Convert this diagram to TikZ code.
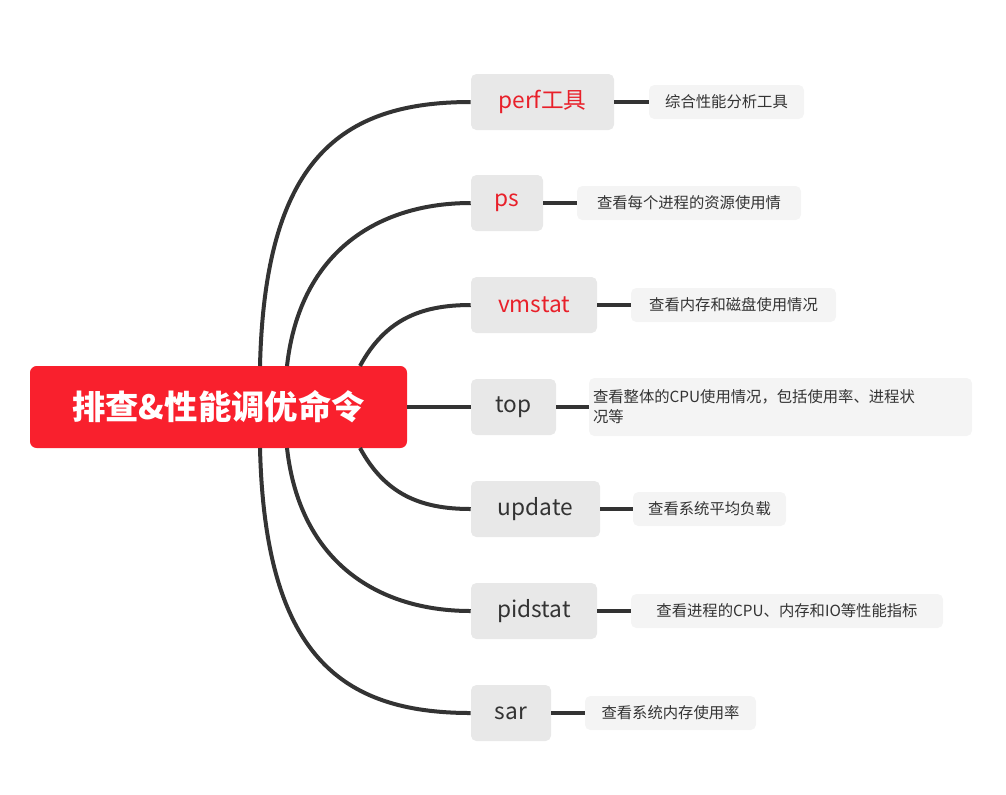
\documentclass[tikz,border=0pt]{standalone}
\usepackage{fontspec}
\setmainfont{Noto Sans CJK SC}
\definecolor{rootred}{HTML}{F9202D}
\definecolor{kidgray}{HTML}{E8E8E8}
\definecolor{leafgray}{HTML}{F4F4F4}
\definecolor{linec}{HTML}{333333}
\definecolor{redtxt}{HTML}{E8202A}
\begin{document}
\begin{tikzpicture}[x=0.75pt,y=-0.75pt,
  link/.style={draw=linec,line width=3pt},
  kid/.style={fill=kidgray,rounded corners=4pt,inner sep=0pt,font=\fontsize{17}{20}\selectfont,text=linec},
  leaf/.style={fill=leafgray,rounded corners=4pt,inner sep=0pt,font=\fontsize{11.5}{15}\selectfont,text=linec,align=left}]
\useasboundingbox (0,0) rectangle (1006,794);
\node[fill=rootred,rounded corners=5pt,minimum width=377*0.75pt,minimum height=82*0.75pt,text=white,font=\fontsize{25}{30}\selectfont\bfseries] (root) at (218.5,407) {排查\&性能调优命令};
% children
\node[kid,minimum width=143*0.75pt,minimum height=56*0.75pt,text=redtxt] (k1) at (542.5,102) {perf工具};
\node[kid,minimum width=72*0.75pt,minimum height=56*0.75pt,text=redtxt] (k2) at (507,203) {ps};
\node[kid,minimum width=126*0.75pt,minimum height=56*0.75pt,text=redtxt] (k3) at (534,305) {vmstat};
\node[kid,minimum width=85*0.75pt,minimum height=56*0.75pt] (k4) at (513.5,407) {top};
\node[kid,minimum width=129*0.75pt,minimum height=56*0.75pt] (k5) at (535.5,509) {update};
\node[kid,minimum width=126*0.75pt,minimum height=56*0.75pt] (k6) at (534,611) {pidstat};
\node[kid,minimum width=80*0.75pt,minimum height=56*0.75pt] (k7) at (511,713) {sar};
% leaves
\node[leaf,minimum width=155*0.75pt,minimum height=34*0.75pt] (l1) at (726.5,102) {综合性能分析工具};
\node[leaf,minimum width=224*0.75pt,minimum height=34*0.75pt] (l2) at (689,203) {查看每个进程的资源使用情};
\node[leaf,minimum width=205*0.75pt,minimum height=34*0.75pt] (l3) at (733.5,305) {查看内存和磁盘使用情况};
\node[leaf,minimum width=383*0.75pt,minimum height=58*0.75pt,text width=375*0.75pt,inner xsep=4*0.75pt] (l4) at (780.5,407) {查看整体的CPU使用情况，包括使用率、进程状\\况等};
\node[leaf,minimum width=153*0.75pt,minimum height=34*0.75pt] (l5) at (709.5,509) {查看系统平均负载};
\node[leaf,minimum width=312*0.75pt,minimum height=34*0.75pt] (l6) at (787,611) {查看进程的CPU、内存和IO等性能指标};
\node[leaf,minimum width=171*0.75pt,minimum height=34*0.75pt] (l7) at (670.5,713) {查看系统内存使用率};
\foreach \i in {1,...,7}{\draw[link] (k\i.east) -- (l\i.west);}
% root connectors
\coordinate (s1) at (260,366); \coordinate (s2) at (287,366); \coordinate (s3) at (360,366);
\coordinate (t1) at (260,448); \coordinate (t2) at (287,448); \coordinate (t3) at (360,448);
\draw[link] (s1) .. controls (265,160) and (340,102) .. (k1.west);
\draw[link] (s2) .. controls (300,250) and (380,203) .. (k2.west);
\draw[link] (s3) .. controls (385,320) and (420,305) .. (k3.west);
\draw[link] (root.east) -- (k4.west);
\draw[link] (t3) .. controls (385,494) and (420,509) .. (k5.west);
\draw[link] (t2) .. controls (300,564) and (380,611) .. (k6.west);
\draw[link] (t1) .. controls (265,654) and (340,713) .. (k7.west);
\end{tikzpicture}
\end{document}
